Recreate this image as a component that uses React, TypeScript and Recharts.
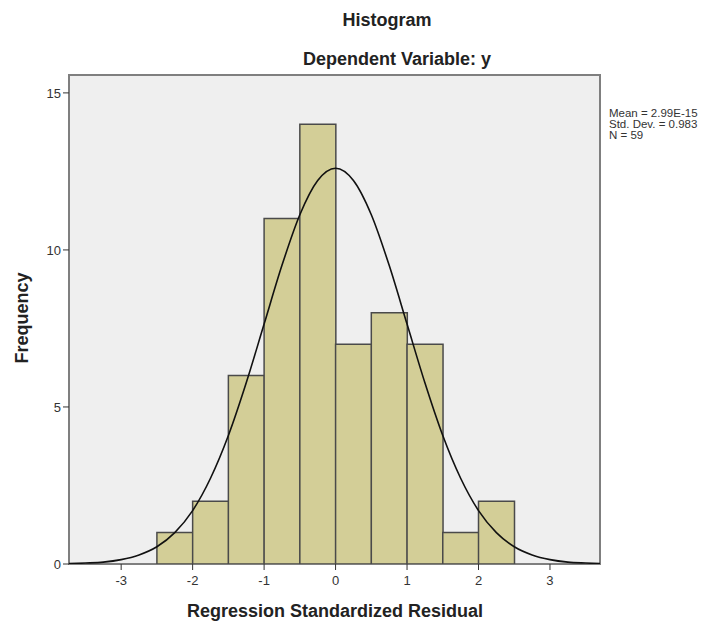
import {
  Bar,
  ComposedChart,
  CartesianGrid,
  Line,
  ReferenceArea,
  XAxis,
  YAxis,
} from 'recharts';

// histogram bins (bin centre, width 0.5)
const binMids = [-2.25, -1.75, -1.25, -0.75, -0.25, 0.25, 0.75, 1.25, 1.75, 2.25];
const binCounts = [1, 2, 6, 11, 14, 7, 8, 7, 1, 2];

// normal curve
const curveX = [
  -3.75, -3.5, -3.25, -3, -2.75, -2.5, -2.25, -2, -1.75, -1.5, -1.25, -1, -0.75, -0.5, -0.25,
  0, 0.25, 0.5, 0.75, 1, 1.25, 1.5, 1.75, 2, 2.25, 2.5, 2.75, 3, 3.25, 3.5, 3.75,
];
const curveY = [
  0.01, 0.03, 0.06, 0.14, 0.29, 0.55, 1.0, 1.7, 2.73, 4.09, 5.77, 7.64, 9.51, 11.12, 12.21,
  12.6, 12.21, 11.12, 9.51, 7.64, 5.77, 4.09, 2.73, 1.7, 1.0, 0.55, 0.29, 0.14, 0.06, 0.03, 0.01,
];

const xTicks = [-3, -2, -1, 0, 1, 2, 3];
const yTicks = [0, 5, 10, 15];
const statsLines = ['Mean = 2.99E-15', 'Std. Dev. = 0.983', 'N = 59'];

const X_DOMAIN: [number, number] = [-3.73, 3.7];
const Y_DOMAIN: [number, number] = [0, 15.57];

const bins = binMids.map((mid, i) => ({ mid, count: binCounts[i] }));
const curve = curveX.map((x, i) => ({ x, y: curveY[i] }));

const FONT = '"Liberation Sans", Arial, sans-serif';
const tickStyle = { fontSize: 13, fill: '#333', fontFamily: FONT };

export default function App() {
  return (
    <div style={{ position: 'absolute', left: 0, top: 0, width: 718, height: 624, background: '#fff' }}>
      <ComposedChart
        width={718}
        height={624}
        data={bins}
        barCategoryGap={0}
        barGap={0}
        margin={{ top: 75, right: 118, bottom: 30, left: 39 }}
      >
        <CartesianGrid fill="#efefef" horizontal={false} vertical={false} />
        <XAxis
          xAxisId="bins"
          dataKey="mid"
          type="number"
          domain={X_DOMAIN}
          allowDataOverflow
          ticks={xTicks}
          height={30}
          axisLine={false}
          tickLine={{ stroke: '#333' }}
          tickSize={6}
          tickMargin={6}
          tick={tickStyle}
        />
        <XAxis xAxisId="curve" dataKey="x" type="number" domain={X_DOMAIN} allowDataOverflow hide />
        <YAxis
          type="number"
          domain={Y_DOMAIN}
          allowDataOverflow
          ticks={yTicks}
          width={30}
          axisLine={false}
          tickLine={{ stroke: '#333' }}
          tickSize={6}
          tick={tickStyle}
        />
        <Bar
          xAxisId="bins"
          dataKey="count"
          fill="#d3ce97"
          stroke="#4a4a4a"
          strokeWidth={1.5}
          isAnimationActive={false}
        />
        <Line
          xAxisId="curve"
          data={curve}
          dataKey="y"
          type="monotone"
          stroke="#111"
          strokeWidth={1.6}
          dot={false}
          activeDot={false}
          isAnimationActive={false}
        />
        <ReferenceArea
          xAxisId="bins"
          x1={X_DOMAIN[0]}
          x2={X_DOMAIN[1]}
          y1={Y_DOMAIN[0]}
          y2={Y_DOMAIN[1]}
          fill="none"
          stroke="#7f7f7f"
          strokeWidth={2}
          ifOverflow="visible"
        />
      </ComposedChart>
      <svg
        width={718}
        height={624}
        style={{ position: 'absolute', left: 0, top: 0, pointerEvents: 'none' }}
        fontFamily={FONT}
      >
        <text x={387} y={26} textAnchor="middle" fontSize={18} fontWeight="bold" fill="#222">
          Histogram
        </text>
        <text x={397} y={65} textAnchor="middle" fontSize={18} fontWeight="bold" fill="#222">
          Dependent Variable: y
        </text>
        <text x={335} y={617} textAnchor="middle" fontSize={18} fontWeight="bold" fill="#222">
          Regression Standardized Residual
        </text>
        <text
          x={28}
          y={318}
          textAnchor="middle"
          fontSize={18}
          fontWeight="bold"
          fill="#222"
          transform="rotate(-90 28 318)"
        >
          Frequency
        </text>
        {statsLines.map((s, i) => (
          <text key={s} x={609} y={117 + i * 11} fontSize={11.5} fill="#333">
            {s}
          </text>
        ))}
      </svg>
    </div>
  );
}
